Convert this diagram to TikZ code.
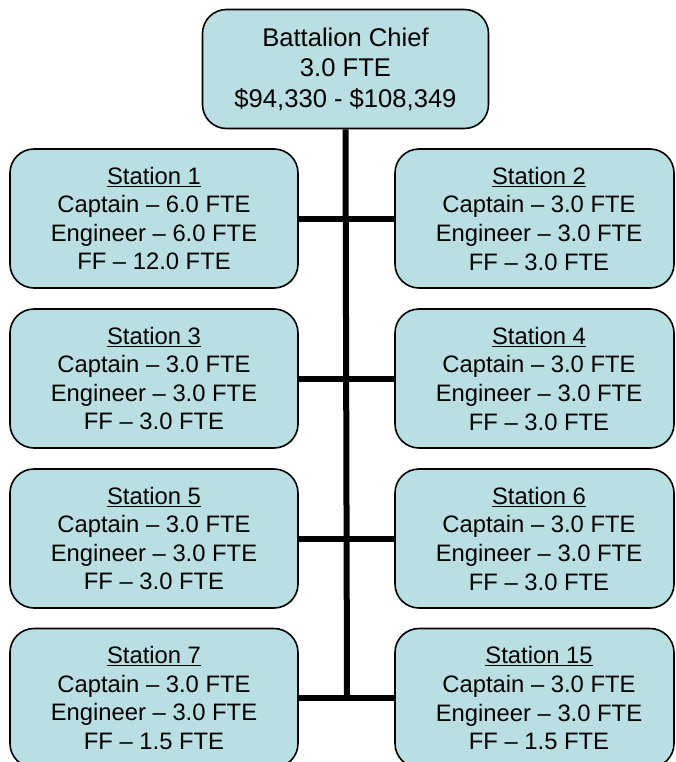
\documentclass[tikz,border=0pt]{standalone}
\usepackage{fontspec}
\setmainfont{Liberation Sans}
\definecolor{boxfill}{RGB}{186,223,227}
\newcommand{\rlines}[1]{\hspace*{9pt}\raisebox{-3pt}[\height][\depth]{\begin{tabular}{@{}c@{}}#1\end{tabular}}}
\begin{document}
\begin{tikzpicture}[x=1pt,y=-1pt,
  orgbox/.style={draw=black,line width=1.6pt,fill=boxfill,rounded corners=24pt,
    align=center,inner sep=0pt,font=\fontsize{23.8pt}{28.6pt}\selectfont},
  stbox/.style={orgbox,minimum width=288pt,minimum height=139pt},
  rtbox/.style={orgbox,minimum width=279pt,minimum height=139pt},
  link/.style={line width=6pt,draw=black}]
\useasboundingbox (0,0) rectangle (675,762);
\clip (0,0) rectangle (675,762);
\fill[white] (0,0) rectangle (675,762);
\coordinate (bot) at (347,696);
\node[orgbox,minimum width=286pt,minimum height=119pt,font=\fontsize{25.6pt}{30.5pt}\selectfont] (chief) at (345.5,69) {Battalion Chief\\3.0 FTE\\\$94,330 - \$108,349};
\node[stbox] (s1) at (154,218.5) {\underline{Station 1}\\Captain -- 6.0 FTE\\Engineer -- 6.0 FTE\\FF -- 12.0 FTE};
\node[rtbox] (s2) at (534.5,218.5) {\rlines{\underline{Station 2}\\Captain -- 3.0 FTE\\Engineer -- 3.0 FTE\\FF -- 3.0 FTE}};
\node[stbox] (s3) at (154,378.5) {\underline{Station 3}\\Captain -- 3.0 FTE\\Engineer -- 3.0 FTE\\FF -- 3.0 FTE};
\node[rtbox] (s4) at (534.5,378.5) {\rlines{\underline{Station 4}\\Captain -- 3.0 FTE\\Engineer -- 3.0 FTE\\FF -- 3.0 FTE}};
\node[stbox] (s5) at (154,538.5) {\underline{Station 5}\\Captain -- 3.0 FTE\\Engineer -- 3.0 FTE\\FF -- 3.0 FTE};
\node[rtbox] (s6) at (534.5,538.5) {\rlines{\underline{Station 6}\\Captain -- 3.0 FTE\\Engineer -- 3.0 FTE\\FF -- 3.0 FTE}};
\node[stbox] (s7) at (154,698) {\underline{Station 7}\\Captain -- 3.0 FTE\\Engineer -- 3.0 FTE\\FF -- 1.5 FTE};
\node[rtbox] (s15) at (534.5,698) {\rlines{\underline{Station 15}\\Captain -- 3.0 FTE\\Engineer -- 3.0 FTE\\FF -- 1.5 FTE}};
\draw[link] (chief.south) -- (bot);
\draw[link] (s1.east) -- (s2.west);
\draw[link] (s3.east) -- (s4.west);
\draw[link] (s5.east) -- (s6.west);
\draw[link] (s7.east) -- (s15.west);
\end{tikzpicture}
\end{document}
